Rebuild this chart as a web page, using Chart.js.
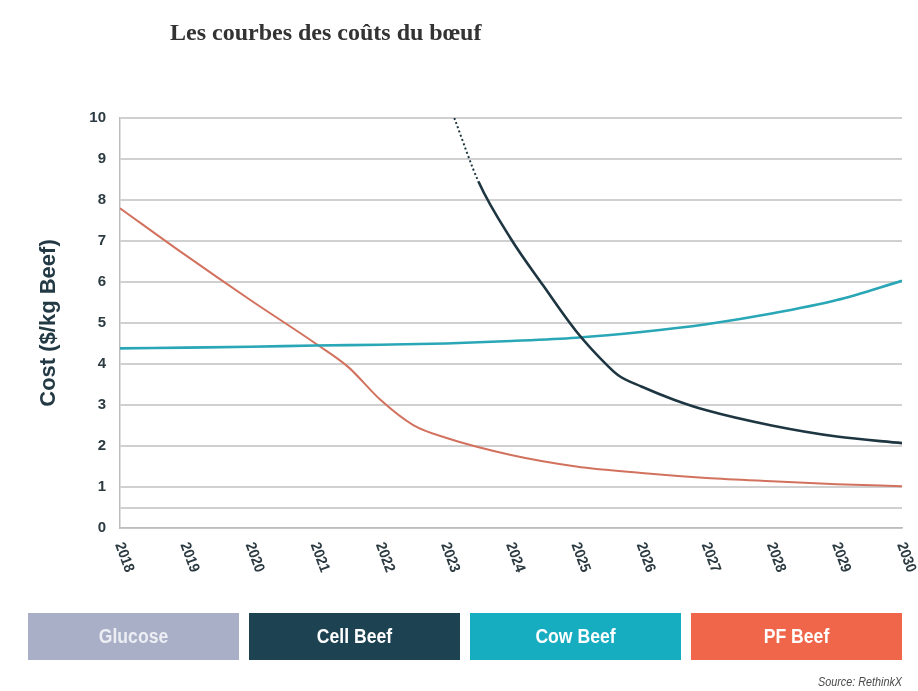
<!DOCTYPE html>
<html>
<head>
<meta charset="utf-8">
<script src="https://cdn.jsdelivr.net/npm/chart.js@4.4.1/dist/chart.umd.min.js"></script>
<style>
  html, body { margin: 0; padding: 0; background: #ffffff; }
  #wrap { width: 918px; height: 691px; }
</style>
</head>
<body>
<div id="wrap"><canvas id="chart" width="918" height="691"></canvas></div>
<script>
// ---- texts ----
const chartTitle = 'Les courbes des coûts du bœuf';
const yAxisTitle = 'Cost ($/kg Beef)';
const sourceNote = 'Source: RethinkX';

// ---- axes ----
const years = [2018, 2019, 2020, 2021, 2022, 2023, 2024, 2025, 2026, 2027, 2028, 2029, 2030];
const yTickValues = [0, 1, 2, 3, 4, 5, 6, 7, 8, 9, 10];
const yExtraGrid = [0.5];

// ---- legend ----
const legendLabels = ['Glucose', 'Cell Beef', 'Cow Beef', 'PF Beef'];
const legendColors = ['#a9afc7', '#1d4251', '#17adc1', '#ef664b'];
const legendTextColors = ['#eceef4', '#ffffff', '#ffffff', '#ffffff'];

// ---- series: cell-cultured beef (dotted projection before 2023.5) ----
const cellYears = [2023.13, 2023.5, 2024, 2024.5, 2025, 2025.5, 2025.65, 2026, 2026.5, 2027, 2028, 2029, 2030];
const cellCost  = [10.0, 8.45, 7.05, 5.90, 4.80, 3.93, 3.72, 3.45, 3.13, 2.87, 2.50, 2.23, 2.07];
const cellDottedUntil = 2023.5;

// ---- series: cow beef ----
const cowYears = [2018, 2019, 2020, 2021, 2022, 2023, 2024, 2025, 2026, 2027, 2028, 2029, 2030];
const cowCost  = [4.38, 4.40, 4.42, 4.45, 4.47, 4.50, 4.56, 4.64, 4.78, 4.97, 5.23, 5.56, 6.03];

// ---- series: precision-fermentation beef ----
const pfYears = [2018, 2019, 2020, 2021, 2021.5, 2022, 2022.5, 2023, 2024, 2025, 2026, 2027, 2028, 2029, 2030];
const pfCost  = [7.80, 6.66, 5.56, 4.50, 3.93, 3.12, 2.51, 2.20, 1.78, 1.50, 1.34, 1.22, 1.14, 1.07, 1.02];

const toPoints = (xs, ys) => xs.map((x, i) => ({ x: x, y: ys[i] }));

const tickFontFamily = '"Liberation Sans", Arial, Helvetica, sans-serif';
const inkColor = '#2c3a41';

// Background, title, slanted year labels, legend boxes and source line
const decorations = {
  id: 'decorations',
  beforeDraw(chart) {
    const ctx = chart.ctx;
    ctx.save();
    ctx.fillStyle = '#ffffff';
    ctx.fillRect(0, 0, chart.width, chart.height);
    ctx.restore();
  },
  afterDraw(chart) {
    const ctx = chart.ctx;
    const xScale = chart.scales.x;
    const area = chart.chartArea;

    // title
    ctx.save();
    ctx.fillStyle = '#333333';
    ctx.font = 'bold 24px "Liberation Serif", "Times New Roman", serif';
    ctx.textAlign = 'left';
    ctx.textBaseline = 'alphabetic';
    ctx.fillText(chartTitle, 170, 40);
    ctx.restore();

    // year labels, slanted downward to the right
    ctx.save();
    ctx.fillStyle = inkColor;
    ctx.font = 'bold 15px ' + tickFontFamily;
    ctx.textAlign = 'left';
    ctx.textBaseline = 'middle';
    years.forEach(yr => {
      const px = xScale.getPixelForValue(yr);
      ctx.save();
      ctx.translate(px - 1, area.bottom + 15);
      ctx.rotate(70 * Math.PI / 180);
      ctx.scale(0.92, 1);
      ctx.fillText(String(yr), 0, 0);
      ctx.restore();
    });
    ctx.restore();

    // legend boxes
    const boxLeft = 28, boxTop = 613, boxH = 47, gap = 10;
    const boxW = (area.right - boxLeft - gap * (legendLabels.length - 1)) / legendLabels.length;
    legendLabels.forEach((lab, i) => {
      const x0 = boxLeft + i * (boxW + gap);
      ctx.save();
      ctx.fillStyle = legendColors[i];
      ctx.fillRect(x0, boxTop, boxW, boxH);
      ctx.fillStyle = legendTextColors[i];
      ctx.font = 'bold 20px ' + tickFontFamily;
      ctx.textAlign = 'center';
      ctx.textBaseline = 'middle';
      ctx.translate(x0 + boxW / 2, boxTop + boxH / 2 + 1);
      ctx.scale(0.88, 1);
      ctx.fillText(lab, 0, 0);
      ctx.restore();
    });

    // source line
    ctx.save();
    ctx.fillStyle = '#4a4a4a';
    ctx.font = 'italic 12px ' + tickFontFamily;
    ctx.textAlign = 'right';
    ctx.textBaseline = 'alphabetic';
    ctx.translate(area.right, 686);
    ctx.scale(0.9, 1);
    ctx.fillText(sourceNote, 0, 0);
    ctx.restore();
  }
};

new Chart(document.getElementById('chart'), {
  type: 'line',
  data: {
    datasets: [
      {
        label: legendLabels[1],
        data: toPoints(cellYears, cellCost),
        borderColor: '#1e3641',
        borderWidth: 2.6,
        pointRadius: 0,
        cubicInterpolationMode: 'monotone',
        segment: {
          borderDash: c => (c.p1.parsed.x <= cellDottedUntil ? [2, 2.5] : undefined),
          borderWidth: c => (c.p1.parsed.x <= cellDottedUntil ? 2 : 2.6)
        }
      },
      {
        label: legendLabels[2],
        data: toPoints(cowYears, cowCost),
        borderColor: '#2aa7b7',
        borderWidth: 2.6,
        pointRadius: 0,
        cubicInterpolationMode: 'monotone'
      },
      {
        label: legendLabels[3],
        data: toPoints(pfYears, pfCost),
        borderColor: '#d2725e',
        borderWidth: 2,
        pointRadius: 0,
        cubicInterpolationMode: 'monotone'
      }
    ]
  },
  options: {
    responsive: false,
    devicePixelRatio: 1,
    animation: false,
    events: [],
    layout: { padding: { top: 118, right: 16, left: 0, bottom: 0 } },
    plugins: {
      legend: { display: false },
      title: { display: false },
      tooltip: { enabled: false }
    },
    scales: {
      x: {
        type: 'linear',
        min: years[0],
        max: years[years.length - 1],
        grid: { display: false, drawTicks: false },
        border: { display: true, color: '#bdbdbd', width: 1.5 },
        ticks: { display: false },
        afterFit: s => { s.height = 163; }
      },
      y: {
        min: yTickValues[0],
        max: yTickValues[yTickValues.length - 1],
        afterBuildTicks: s => {
          s.ticks = yTickValues.concat(yExtraGrid).sort((a, b) => a - b).map(v => ({ value: v }));
        },
        grid: { color: '#d0d0d0', lineWidth: 2, drawTicks: false },
        border: { display: true, color: '#bdbdbd', width: 1.5 },
        ticks: {
          padding: 14,
          color: inkColor,
          font: { family: tickFontFamily, weight: 'bold', size: 15 },
          callback: v => (yTickValues.includes(v) ? String(v) : '')
        },
        title: {
          display: true,
          text: yAxisTitle,
          color: '#233a45',
          font: { family: tickFontFamily, weight: 'bold', size: 22 },
          padding: { top: 36, bottom: 0 }
        },
        afterFit: s => { s.width = 120; }
      }
    }
  },
  plugins: [decorations]
});
</script>
</body>
</html>
